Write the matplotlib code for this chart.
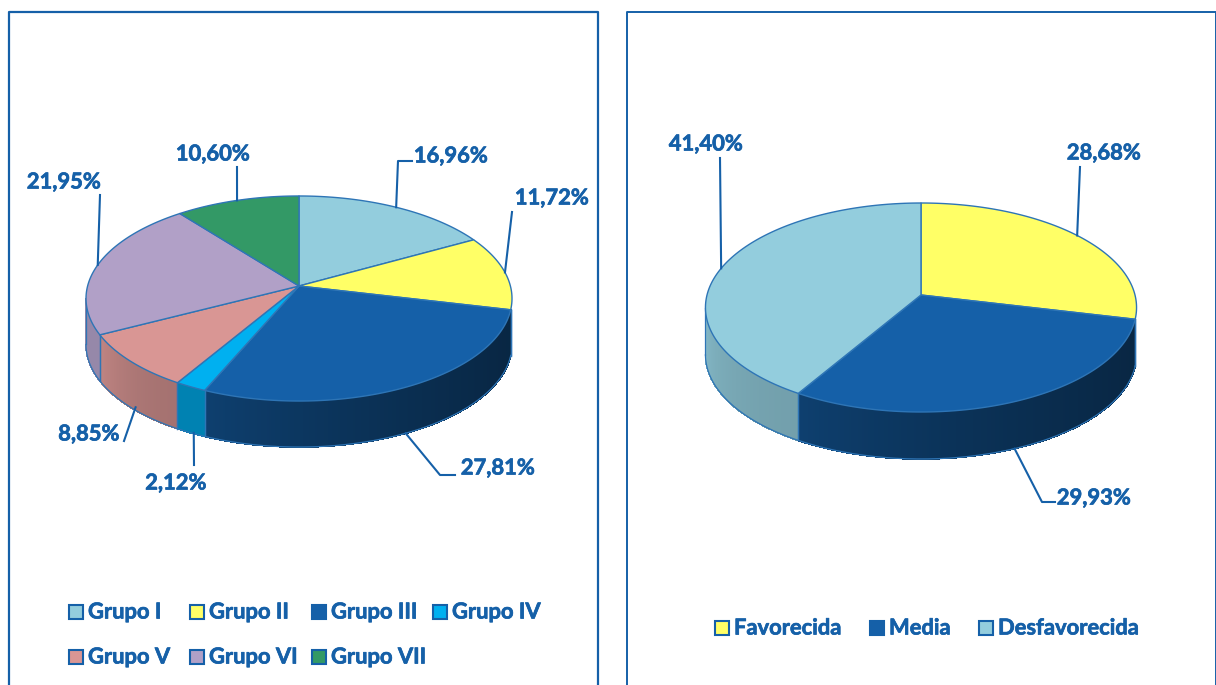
import numpy as np
import matplotlib
matplotlib.use("Agg")
import matplotlib.pyplot as plt
import matplotlib.patheffects as pe
from matplotlib.patches import Rectangle

plt.rcParams['font.family'] = ['Lato', 'DejaVu Sans']

# datos
grupos = ['Grupo I', 'Grupo II', 'Grupo III', 'Grupo IV', 'Grupo V', 'Grupo VI', 'Grupo VII']
grupos_val = [16.96, 11.72, 27.81, 2.12, 8.85, 21.95, 10.60]
zonas = ['Favorecida', 'Media', 'Desfavorecida']
zonas_val = [28.68, 29.93, 41.40]

# estilos
azul = '#1560A8'
borde = '#2E75B6'
grupos_col = ['#93CDDD', '#FFFF66', '#1560A8', '#00B0F0', '#D99694', '#B1A0C7', '#339966']
grupos_sombra = [(.8, .8), (.8, .8), (.66, .40), (.74, .74), (.88, .76), (.85, .85), (.8, .8)]
zonas_col = ['#FFFF66', '#1560A8', '#93CDDD']
zonas_sombra = [(.8, .8), (.66, .40), (.90, .78)]

T_MIN, T_MAX = 103.0, 263.0
FUENTE = 15.8
GRUESO = [pe.withStroke(linewidth=0.5, foreground=azul)]


def borde_pastel(t, cx, cy, a, b, k):
    # punto del borde con perspectiva, t en grados desde arriba (sentido horario)
    t = np.radians(t)
    w = 1 + k * np.cos(t)
    return cx + a * np.sin(t) / w, cy - b * np.cos(t) / w


def pastel(ax, valores, colores, sombras, cx, cy, a, b, k, h, etiquetas, guias, ajustes):
    total = sum(valores)
    ini = 0.0
    cortes = []
    for v in valores:
        cortes.append((ini, ini + v / total * 360))
        ini += v / total * 360

    # paredes
    for (t0, t1), col, (s_izq, s_der) in zip(cortes, colores, sombras):
        t0v, t1v = max(t0, T_MIN), min(t1, T_MAX)
        if t1v <= t0v:
            continue
        base = np.array(matplotlib.colors.to_rgb(col))
        n = max(int((t1v - t0v) * 2), 2)
        ts = np.linspace(t0v, t1v, n + 1)
        for i in range(n):
            f = (i / max(n - 1, 1)) ** 1.6
            s = s_der + (s_izq - s_der) * f
            x0, y0 = borde_pastel(ts[i], cx, cy, a, b, k)
            x1, y1 = borde_pastel(ts[i + 1], cx, cy, a, b, k)
            ax.fill([x0, x1, x1, x0], [y0, y1, y1 + h, y0 + h], color=base * s, lw=0.6,
                    antialiased=False, zorder=2)
        xs, ys = borde_pastel(ts, cx, cy, a, b, k)
        ax.plot(xs, ys + h, color=borde, lw=0.9, zorder=3)
        for t in (t0v, t1v):
            x, y = borde_pastel(t, cx, cy, a, b, k)
            ax.plot([x, x], [y, y + h], color=borde, lw=0.9, zorder=3)

    # tapa
    for (t0, t1), col in zip(cortes, colores):
        ts = np.linspace(t0, t1, 120)
        xs, ys = borde_pastel(ts, cx, cy, a, b, k)
        ax.fill(np.r_[cx, xs], np.r_[cy, ys], facecolor=col, edgecolor=borde, lw=1,
                joinstyle='round', zorder=4)

    # etiquetas y guias
    for (t0, t1), v, (lx, ly), g, dx in zip(cortes, valores, etiquetas, guias, ajustes):
        tm = (t0 + t1) / 2
        x, y = borde_pastel(tm, cx, cy, a, b, k)
        if T_MIN < tm < T_MAX and np.cos(np.radians(tm)) < -0.3:
            y += h
        ax.plot([x + dx] + [p[0] for p in g], [y] + [p[1] for p in g], color=azul, lw=1.5, zorder=5)
        ax.text(lx, ly, f'{v:.2f}%'.replace('.', ','), color=azul, fontsize=FUENTE,
                fontweight='bold', ha='center', va='center', zorder=6, path_effects=GRUESO)


def leyenda(ax, nombres, colores, posiciones):
    for n, c, (x, y) in zip(nombres, colores, posiciones):
        ax.add_patch(Rectangle((x, y - 7), 14, 14, facecolor=c, edgecolor=azul, lw=1.5))
        ax.text(x + 19, y, n, color=azul, fontsize=FUENTE, fontweight='bold', ha='left', va='center',
                path_effects=GRUESO)


fig = plt.figure(figsize=(12.16, 6.85), dpi=100)
ax = fig.add_axes([0, 0, 1, 1])
ax.set_xlim(0, 1216)
ax.set_ylim(685, 0)
ax.axis('off')

# marcos
ax.plot([9, 9, 598, 598], [700, 12, 12, 700], color=azul, lw=1.6, zorder=1)
ax.plot([627, 627, 1215.5, 1215.5], [700, 12, 12, 700], color=azul, lw=1.4, zorder=1)

pastel(ax, grupos_val, grupos_col, grupos_sombra, 299, 286, 211.4, 101, 0.122, 46,
       [(451, 156), (552, 198), (498, 468), (176, 483), (89, 434), (64, 182), (213, 154)],
       [[(398, 161), (412, 161)], [(512, 212)], [(440, 475), (455, 475)], [(194, 465)],
        [(124, 441)], [(100, 195)], [(237, 167)]],
       [0, 0, 0, 3, 5, 0, 0])

pastel(ax, zonas_val, zonas_col, zonas_sombra, 921, 295, 214, 103, 0.1196, 47,
       [(1104, 153), (1094, 498), (706, 144)],
       [[(1080, 167)], [(1042, 502), (1055, 502)], [(720, 158)]],
       [0, 0, 0])

leyenda(ax, grupos, grupos_col,
        [(69, 612), (190, 612), (312, 612), (433, 612), (69, 657), (190, 657), (312, 657)])
leyenda(ax, zonas, zonas_col, [(715, 628), (870, 628), (979, 628)])

fig.savefig('out.png', dpi=100)
